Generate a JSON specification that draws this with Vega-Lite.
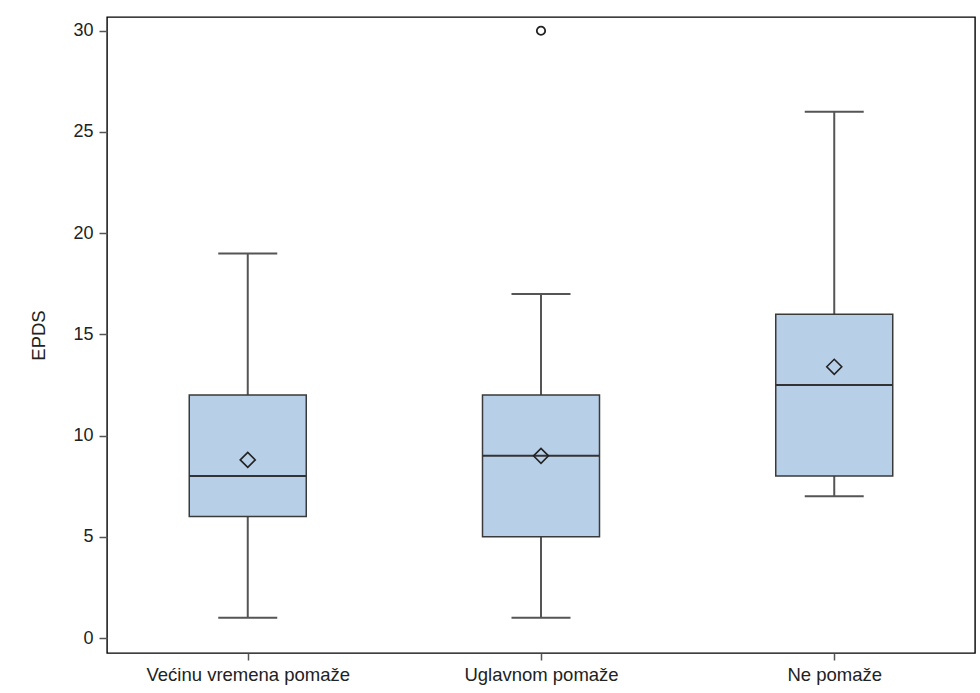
{
  "$schema": "https://vega.github.io/schema/vega-lite/v6.json",
  "autosize": {"type": "none"},
  "width": 868,
  "height": 636,
  "padding": {"left": 107, "top": 17, "right": 5, "bottom": 40},
  "background": "white",
  "config": {
    "view": {"stroke": "#000000", "strokeWidth": 1.4},
    "font": "Liberation Sans",
    "axis": {"grid": false, "domain": false}
  },
  "datasets": {
    "boxes": [
      {"group": "Većinu vremena pomaže", "min": 1, "q1": 6, "median": 8, "q3": 12, "max": 19, "mean": 8.8},
      {"group": "Uglavnom pomaže", "min": 1, "q1": 5, "median": 9, "q3": 12, "max": 17, "mean": 9.0},
      {"group": "Ne pomaže", "min": 7, "q1": 8, "median": 12.5, "q3": 16, "max": 26, "mean": 13.4}
    ],
    "outliers": [
      {"group": "Uglavnom pomaže", "value": 30}
    ]
  },
  "encoding": {
    "x": {
      "field": "group",
      "type": "nominal",
      "sort": ["Većinu vremena pomaže", "Uglavnom pomaže", "Ne pomaže"],
      "scale": {"type": "point", "domain": ["Većinu vremena pomaže", "Uglavnom pomaže", "Ne pomaže"], "padding": 0.48},
      "axis": {
        "title": null,
        "labelAngle": 0,
        "labelFontSize": 18.5,
        "labelLimit": 0,
        "labelColor": "#222222",
        "tickSize": 7,
        "tickColor": "#555555",
        "tickWidth": 1.5,
        "labelPadding": 5
      }
    }
  },
  "layer": [
    {
      "data": {"name": "boxes"},
      "mark": {"type": "rule", "color": "#555555", "strokeWidth": 2},
      "encoding": {
        "y": {
          "field": "min",
          "type": "quantitative",
          "scale": {"domain": [-0.74, 30.68], "nice": false, "zero": false},
          "axis": {
            "title": "EPDS",
            "titleFontSize": 18.5,
            "titleFontWeight": "normal",
            "titleColor": "#222222",
            "titlePadding": 24,
            "values": [0, 5, 10, 15, 20, 25, 30],
            "labelFontSize": 18,
            "labelColor": "#222222",
            "tickSize": 8,
            "tickColor": "#555555",
            "tickWidth": 1.5,
            "labelPadding": 6
          }
        },
        "y2": {"field": "max"}
      }
    },
    {
      "data": {"name": "boxes"},
      "mark": {"type": "bar", "width": 117, "fill": "#b8cfe8", "stroke": "#3a3a3a", "strokeWidth": 1.5},
      "encoding": {
        "y": {"field": "q1", "type": "quantitative"},
        "y2": {"field": "q3"}
      }
    },
    {
      "data": {"name": "boxes"},
      "mark": {"type": "tick", "size": 117, "thickness": 2, "color": "#333333", "opacity": 1},
      "encoding": {
        "y": {"field": "median", "type": "quantitative"}
      }
    },
    {
      "data": {"name": "boxes"},
      "mark": {"type": "tick", "size": 59, "thickness": 2, "color": "#555555", "opacity": 1},
      "encoding": {
        "y": {"field": "min", "type": "quantitative"}
      }
    },
    {
      "data": {"name": "boxes"},
      "mark": {"type": "tick", "size": 59, "thickness": 2, "color": "#555555", "opacity": 1},
      "encoding": {
        "y": {"field": "max", "type": "quantitative"}
      }
    },
    {
      "data": {"name": "boxes"},
      "mark": {"type": "point", "shape": "diamond", "size": 225, "filled": false, "stroke": "#222222", "strokeWidth": 1.6, "opacity": 1},
      "encoding": {
        "y": {"field": "mean", "type": "quantitative"}
      }
    },
    {
      "data": {"name": "outliers"},
      "mark": {"type": "point", "shape": "circle", "size": 70, "filled": false, "stroke": "#222222", "strokeWidth": 1.8, "opacity": 1},
      "encoding": {
        "y": {"field": "value", "type": "quantitative"}
      }
    }
  ]
}
